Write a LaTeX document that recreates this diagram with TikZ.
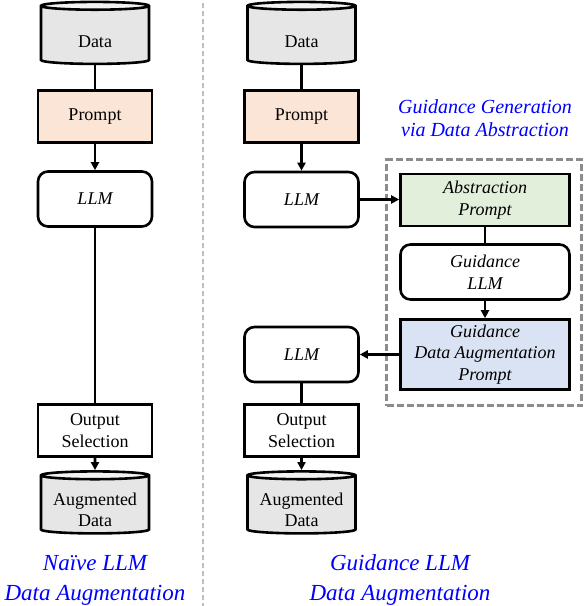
\documentclass[tikz,border=0pt]{standalone}
\usepackage{fontspec}
\setmainfont{Liberation Serif}
\usetikzlibrary{shapes.geometric,arrows.meta}
\definecolor{promptfill}{HTML}{FBE5D6}
\definecolor{abstractfill}{HTML}{E2EFDA}
\definecolor{guidefill}{HTML}{DAE3F3}
\definecolor{dbbody}{HTML}{E7E6E6}
\definecolor{dbtop}{HTML}{F2F2F2}
\definecolor{sepgray}{HTML}{BFBFBF}
\definecolor{groupgray}{HTML}{8C8C8C}

\begin{document}
\begin{tikzpicture}[x=1pt,y=-1pt,
  every node/.style={font=\fontsize{18}{21.5}\selectfont, align=center, inner sep=0pt},
  ital/.style={font=\fontsize{18}{21.5}\selectfont\itshape},
  box/.style={draw, line width=2.6pt, minimum width=114pt, minimum height=52pt},
  llmbox/.style={box, ital, rounded corners=10pt, minimum height=55pt},
  db/.style={cylinder, shape border rotate=90, aspect=0.23, draw, line width=2.6pt,
    cylinder uses custom fill, cylinder body fill=dbbody, cylinder end fill=dbtop,
    minimum width=108pt, minimum height=62pt},
  link/.style={line width=2.6pt},
  flow/.style={link, -{Triangle[length=8pt,width=8pt]}},
  caption/.style={text=blue, font=\fontsize{23}{30}\selectfont\itshape}]
\useasboundingbox (0,0) rectangle (586,606);
\draw [sepgray, line width=2.6pt, dash pattern=on 5pt off 3pt] (203,3) -- (203,606);

\node [db] (data1) at (95,35.5) {\phantom{Data}};
\node (data1txt) at ([yshift=-6pt]data1.center) {Data};
\node [box, fill=promptfill] (prompt1) at (95,116.5) {Prompt};
\node [llmbox] (llm1) at (95,199) {LLM};
\node [box] (select1) at (95,430.5) {Output\\Selection};
\node [db] (aug1) at (95,505) {\phantom{Data}};
\node (aug1txt) at ([yshift=-5pt]aug1.center) {Augmented\\Data};
\node [caption] (cap1) at (95,580) {Naïve LLM\\Data Augmentation};

\node [db] (data2) at (301.5,35.5) {\phantom{Data}};
\node (data2txt) at ([yshift=-6pt]data2.center) {Data};
\node [box, fill=promptfill] (prompt2) at (301.5,116.5) {Prompt};
\node [llmbox] (llm2) at (301.5,199.5) {LLM};
\node [llmbox] (llm3) at (301.5,354.5) {LLM};
\node [box] (select2) at (301.5,430.5) {Output\\Selection};
\node [db] (aug2) at (301.5,505) {\phantom{Data}};
\node (aug2txt) at ([yshift=-5pt]aug2.center) {Augmented\\Data};
\node [caption] (cap2) at (400,580) {Guidance LLM\\Data Augmentation};

\node [draw=groupgray, line width=2.6pt, dash pattern=on 7pt off 3pt,
  minimum width=195pt, minimum height=246pt] (group) at (484,282.5) {};
\node [caption, font=\fontsize{20}{23}\selectfont\itshape] (cap3) at (485,118.5) {Guidance Generation\\via Data Abstraction};
\node [box, ital, minimum width=169pt, fill=abstractfill] (abstract) at (485,200) {Abstraction\\Prompt};
\node [llmbox, minimum width=169pt] (guide) at (485,272) {Guidance\\LLM};
\node [box, ital, minimum width=169pt, minimum height=70pt, fill=guidefill] (augprompt) at (485,354.5) {Guidance\\Data Augmentation\\Prompt};

\draw [link] (data1) -- (prompt1);
\draw [flow] (prompt1) -- (llm1);
\draw [link] (llm1) -- (select1);
\draw [flow] (select1) -- (aug1);

\draw [link] (data2) -- (prompt2);
\draw [flow] (prompt2) -- (llm2);
\draw [flow] (llm2.east) -- (llm2.east -| abstract.west);
\draw [link] (abstract) -- (guide);
\draw [flow] (guide) -- (augprompt);
\draw [flow] (augprompt) -- (llm3);
\draw [link] (llm3) -- (select2);
\draw [flow] (select2) -- (aug2);
\end{tikzpicture}
\end{document}
